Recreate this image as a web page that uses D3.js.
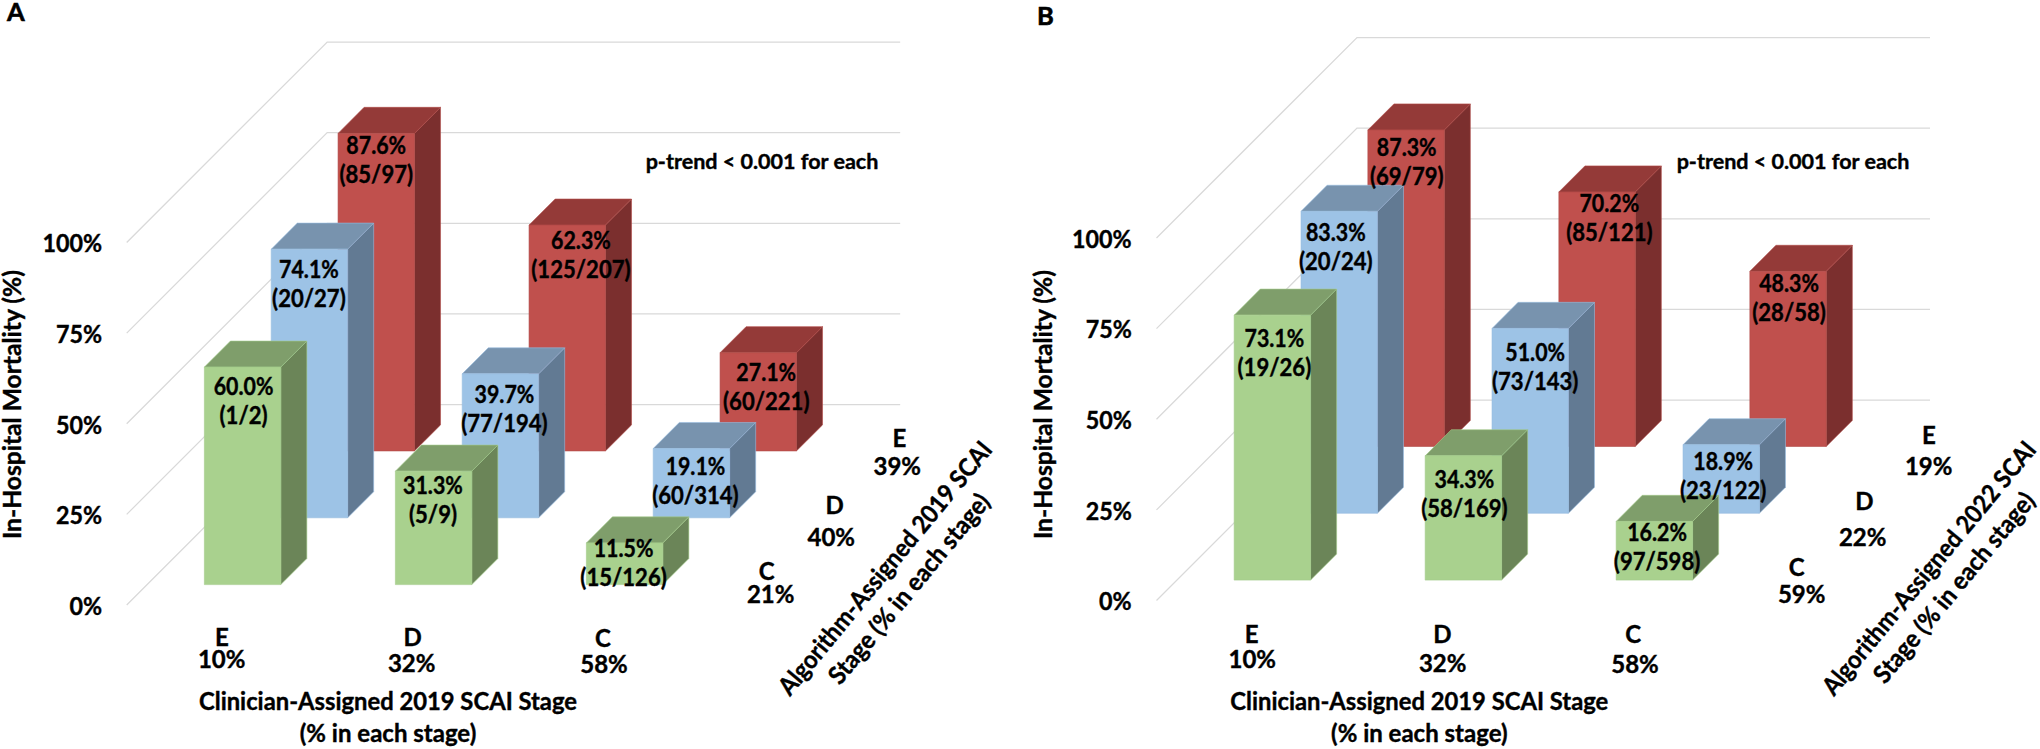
<!DOCTYPE html>
<html><head><meta charset="utf-8">
<script src="https://cdn.jsdelivr.net/npm/d3@7"></script>
<style>
html,body{margin:0;padding:0;background:#fff;}
svg{display:block;}
text{font-family:Lato,"Open Sans",sans-serif;font-weight:700;fill:#000;stroke:#000;stroke-width:0.4px;}
</style></head><body>
<svg id="chart" width="2040" height="749" viewBox="0 0 2040 749"></svg>
<script>
// ---- data ----
const clinicianStages = ["E", "D", "C"];
const clinicianShares = ["10%", "32%", "58%"];
const algorithmRows = ["C", "D", "E"];
const yTicks = [0, 25, 50, 75, 100];

const sharesA = ["21%", "40%", "39%"];
const greenA = [60.0, 31.3, 11.5];
const blueA = [74.1, 39.7, 19.1];
const redA = [87.6, 62.3, 27.1];
const greenCountsA = ["(1/2)", "(5/9)", "(15/126)"];
const blueCountsA = ["(20/27)", "(77/194)", "(60/314)"];
const redCountsA = ["(85/97)", "(125/207)", "(60/221)"];

const sharesB = ["59%", "22%", "19%"];
const greenB = [73.1, 34.3, 16.2];
const blueB = [83.3, 51.0, 18.9];
const redB = [87.3, 70.2, 48.3];
const greenCountsB = ["(19/26)", "(58/169)", "(97/598)"];
const blueCountsB = ["(20/24)", "(73/143)", "(23/122)"];
const redCountsB = ["(69/79)", "(85/121)", "(28/58)"];

// ---- styling ----
const palette = [
  {front:"#A9D18E", top:"#7F9E6B", side:"#6B8558", edge:"#A3CB89"},
  {front:"#9DC3E6", top:"#7893AE", side:"#627A93", edge:"#97BCDF"},
  {front:"#C0504D", top:"#943A38", side:"#7B2F2E", edge:"#B04A47"}
];

// label placement: [dx from bar centre, first baseline below bar top] per row then column
const nudgeA = [
  [[1,28.3],[-0.6,23],[-1,14]],
  [[-0.5,29.3],[4,28.7],[4,26]],
  [[0,21],[13.7,24],[8,28]]
];
const nudgeB = [
  [[2,31.7],[1,32],[2.7,19.4]],
  [[-3.4,30],[5,33],[2,25.6]],
  [[0.7,26.3],[12.3,20],[1,20.5]]
];

const panels = [
  {letter:"A", letterPos:[7,20.7], x0:126.7, y0:605, tickX:102, yTitleX:20.7, values:[greenA,blueA,redA],
   counts:[greenCountsA,blueCountsA,redCountsA], nudge:nudgeA, shares:sharesA,
   pTrend:[762,169], stageXY:[[222,646],[412.7,646],[603,647.4]], shareXY:[[221.7,668],[411.7,671.7],[604,672.7]],
   rowXY:[[766.7,580.3],[834.7,514],[899.3,447]], rowShareXY:[[770.7,603],[831.3,546.4],[897.3,474.7]],
   xTitle:[388,710,741.7], depthTitle:["Algorithm-Assigned 2019 SCAI","Stage (% in each stage)"],
   depthXY:[[885,568],[909,588.7]]},
  {letter:"B", letterPos:[1037,25], x0:1156.5, y0:600.5, tickX:1131.7, yTitleX:1051.7, values:[greenB,blueB,redB],
   counts:[greenCountsB,blueCountsB,redCountsB], nudge:nudgeB, shares:sharesB,
   pTrend:[1793,169], stageXY:[[1251.7,642.7],[1442.3,642.7],[1633.3,643.3]], shareXY:[[1252.3,668.3],[1442.7,671.7],[1635,672.7]],
   rowXY:[[1796.7,576],[1864.3,510],[1929,443.7]], rowShareXY:[[1801.7,603],[1862.7,546.4],[1928.7,474.7]],
   xTitle:[1419.3,710,741.7], depthTitle:["Algorithm-Assigned 2022 SCAI","Stage (% in each stage)"],
   depthXY:[[1929,568],[1954,587.6]]}
];

const svg = d3.select("#chart");
const floorWidth = 573, floorDepth = 200.5, wallHeight = 362.5;
const xBand = d3.scaleBand().domain(clinicianStages).range([0, floorWidth]).paddingInner(0.6).paddingOuter(0.3);
const zBand = d3.scaleBand().domain(algorithmRows).range([0, floorDepth]).paddingInner(0.61).paddingOuter(0.305);
const yHeight = d3.scaleLinear().domain([0, 100]).range([0, wallHeight]);

// Calibri-like widths from Lato: squeeze glyphs horizontally by a factor
function squeeze(sel, f) {
  sel.each(function () {
    const len = this.getComputedTextLength();
    d3.select(this).attr("textLength", (len * f).toFixed(2)).attr("lengthAdjust", "spacingAndGlyphs");
  });
  return sel;
}
function fitTo(sel, target) {
  return sel.attr("textLength", target).attr("lengthAdjust", "spacingAndGlyphs");
}

panels.forEach(p => {
  const g = svg.append("g");
  // oblique projection
  const proj = (x, y, z) => [p.x0 + x + z, p.y0 - y - z];
  const poly = pts => pts.map(a => a.join(",")).join(" ");

  // gridlines
  const grid = g.append("g");
  grid.selectAll("polyline").data(yTicks).join("polyline")
    .attr("points", d => poly([proj(0, yHeight(d), 0), proj(0, yHeight(d), floorDepth), proj(floorWidth, yHeight(d), floorDepth)]))
    .attr("fill", "none").attr("stroke", "#D9D9D9").attr("stroke-width", 1.25);

  // y axis labels
  const yAbs = d3.scaleLinear().domain([0, 100]).range([p.y0, p.y0 - wallHeight]);
  const axis = g.append("g").attr("transform", `translate(${p.tickX},0)`)
    .call(d3.axisLeft(yAbs).tickValues(yTicks).tickFormat(d => d + "%").tickSize(0).tickPadding(0));
  axis.select(".domain").remove();
  axis.attr("font-family", null).attr("font-size", null);
  squeeze(axis.selectAll("text").attr("dy", 9.3).style("font-size", "24.5px"), 0.95);

  // bars, back row first
  const bars = g.append("g");
  const rowOrder = d3.range(algorithmRows.length).reverse();
  rowOrder.forEach(r => {
    const col = palette[r];
    const z0 = zBand(algorithmRows[r]), zb = zBand.bandwidth();
    clinicianStages.forEach((s, c) => {
      const x0 = xBand(s), w = xBand.bandwidth(), h = yHeight(p.values[r][c]);
      const bar = bars.append("g");
      bar.append("polygon").attr("points", poly([proj(x0+w,0,z0),proj(x0+w,0,z0+zb),proj(x0+w,h,z0+zb),proj(x0+w,h,z0)]))
        .attr("fill", col.side).attr("stroke", col.edge).attr("stroke-width", 0.6).attr("stroke-linejoin","round");
      bar.append("polygon").attr("points", poly([proj(x0,h,z0),proj(x0,h,z0+zb),proj(x0+w,h,z0+zb),proj(x0+w,h,z0)]))
        .attr("fill", col.top).attr("stroke", col.edge).attr("stroke-width", 0.6).attr("stroke-linejoin","round");
      bar.append("polygon").attr("points", poly([proj(x0,0,z0),proj(x0+w,0,z0),proj(x0+w,h,z0),proj(x0,h,z0)]))
        .attr("fill", col.front).attr("stroke", col.edge).attr("stroke-width", 0.6).attr("stroke-linejoin","round");
    });
  });

  // value labels on top of all bars
  const labels = g.append("g").attr("text-anchor", "middle").style("font-size", "24px");
  algorithmRows.forEach((_, r) => {
    const z0 = zBand(algorithmRows[r]);
    clinicianStages.forEach((s, c) => {
      const v = p.values[r][c], h = yHeight(v);
      const top = proj(xBand(s) + xBand.bandwidth()/2, h, z0);
      const [dx, dy] = p.nudge[r][c];
      squeeze(labels.append("text").attr("x", top[0]+dx).attr("y", top[1]+dy).text(v.toFixed(1) + "%"), 0.89);
      squeeze(labels.append("text").attr("x", top[0]+dx).attr("y", top[1]+dy+29).text(p.counts[r][c]), 0.92);
    });
  });

  const add = (x, y, t, size, anchor) => g.append("text").attr("x", x).attr("y", y)
    .attr("text-anchor", anchor || "middle").style("font-size", size + "px").text(t);

  add(p.letterPos[0], p.letterPos[1], p.letter, 25.5, "start").style("stroke-width", "0.6px");
  fitTo(add(p.pTrend[0], p.pTrend[1], "p-trend < 0.001 for each", 21.5), 232.7);

  clinicianStages.forEach((s, i) => {
    add(p.stageXY[i][0], p.stageXY[i][1], s, 24);
    add(p.shareXY[i][0], p.shareXY[i][1], clinicianShares[i], 24);
  });
  algorithmRows.forEach((s, i) => {
    add(p.rowXY[i][0], p.rowXY[i][1], s, 24);
    add(p.rowShareXY[i][0], p.rowShareXY[i][1], p.shares[i], 24);
  });

  fitTo(add(p.xTitle[0], p.xTitle[1], "Clinician-Assigned 2019 SCAI Stage", 24), 378);
  add(p.xTitle[0], p.xTitle[2], "(% in each stage)", 24);

  fitTo(g.append("text").attr("transform", `translate(${p.yTitleX},404.5) rotate(-90)`)
    .attr("text-anchor", "middle").style("font-size", "24.5px").text("In-Hospital Mortality (%)"), 269);

  const depthLens = [320, 238];
  p.depthTitle.forEach((t, i) => {
    fitTo(g.append("text").attr("transform", `translate(${p.depthXY[i][0]},${p.depthXY[i][1]}) rotate(-50.5)`)
      .attr("text-anchor", "middle").attr("dy", "0.35em").style("font-size", "25px").text(t), depthLens[i]);
  });
});
</script>
</body></html>
